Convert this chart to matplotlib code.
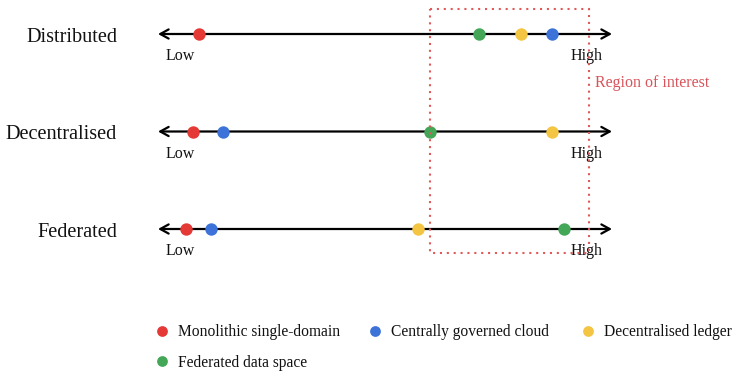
import matplotlib
matplotlib.use("Agg")
import matplotlib.pyplot as plt
from matplotlib.patches import Rectangle

plt.rcParams['font.family'] = ['Liberation Serif', 'DejaVu Serif']

rows = ["Distributed", "Decentralised", "Federated"]
series = ["Monolithic single-domain", "Centrally governed cloud",
          "Decentralised ledger", "Federated data space"]
colors = ["#e53935", "#3d72d9", "#f4c542", "#43a757"]
# positions on a 0 (Low) .. 100 (High) scale, per row
values = {
    "Monolithic single-domain": [9.0, 7.7, 6.2],
    "Centrally governed cloud": [86.8, 14.3, 11.7],
    "Decentralised ledger": [80.0, 86.8, 57.3],
    "Federated data space": [70.7, 59.9, 89.4],
}
region = (59.9, 94.9)

fig = plt.figure(figsize=(7.36, 3.72), dpi=100)
ax = fig.add_axes([0, 0, 1, 1])
px = 4.54
ax.set_xlim(-158 / px, (736 - 158) / px)
ax.set_ylim((372 - 34) / 97.5, -34 / 97.5)
ax.axis("off")

for i, name in enumerate(rows):
    ax.annotate("", xy=(100, i), xytext=(0, i),
                arrowprops=dict(arrowstyle="<->,head_length=0.6,head_width=0.33",
                                color="black", lw=1.6, shrinkA=0, shrinkB=0),
                zorder=1)
    ax.text(-9.0, i + 0.01, name, ha="right", va="center_baseline", fontsize=14.6, color="#111111")
    ax.text(4.8, i + 0.21, "Low", ha="center", va="center_baseline", fontsize=11.5, color="#111111")
    ax.text(94.5, i + 0.21, "High", ha="center", va="center_baseline", fontsize=11.5, color="#111111")

for s, c in zip(series, colors):
    ax.scatter(values[s], range(len(rows)), s=80, color=c, zorder=3, linewidths=0)

ax.add_patch(Rectangle((region[0], -0.256), region[1] - region[0], 2.502,
                       fill=False, edgecolor="#e05a5a", lw=1.5,
                       linestyle=(0, (1, 2.3)), zorder=4))
ax.text(96.3, 0.482, "Region of interest", ha="left", va="center_baseline",
        fontsize=11.5, color="#d9545a")

leg_pos = [(0.88, 3.046), (47.8, 3.046), (94.7, 3.046), (0.88, 3.354)]
for (lx, ly), s, c in zip(leg_pos, series, colors):
    ax.scatter([lx], [ly], s=60, color=c, linewidths=0)
    ax.text(lx + 3.5, ly - 0.005, s, ha="left", va="center_baseline", fontsize=11.2, color="#111111")

fig.savefig("out.png", dpi=100)
